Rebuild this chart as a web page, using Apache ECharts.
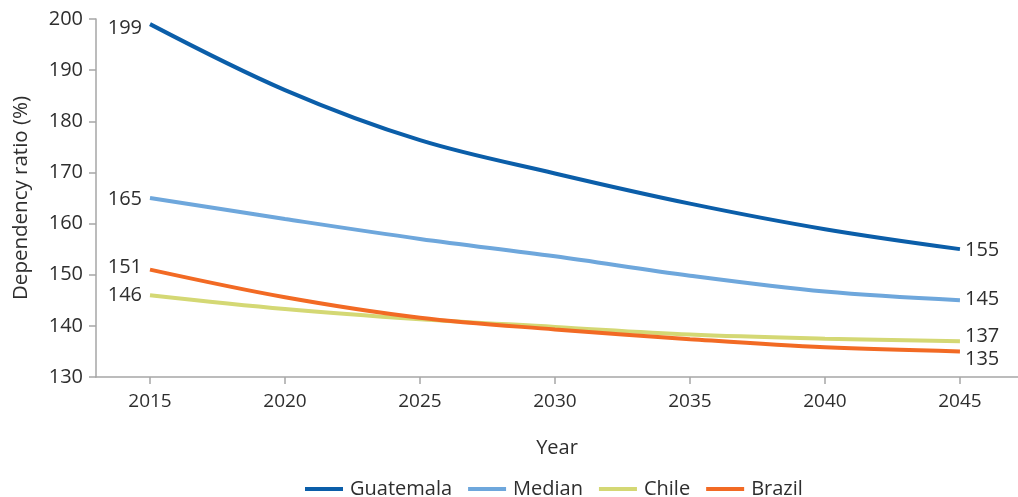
<!DOCTYPE html>
<html>
<head>
<meta charset="utf-8">
<title>Dependency ratio projections</title>
<script src="https://cdn.jsdelivr.net/npm/echarts@6/dist/echarts.min.js"></script>
<style>
  html, body { margin: 0; padding: 0; background: #ffffff; }
  #chart { width: 1018px; height: 497px; }
</style>
</head>
<body>
<div id="chart"></div>
<script>
// Projection years and tick labels
const years = [2015, 2020, 2025, 2030, 2035, 2040, 2045];
const yTicks = [130, 140, 150, 160, 170, 180, 190, 200];

// Dependency ratio (%) by series
const guatemala = [199, 186.1, 176.3, 169.8, 163.9, 158.9, 155];
const median    = [165, 160.9, 157.0, 153.6, 149.8, 146.7, 145];
const chile     = [146, 143.3, 141.3, 139.8, 138.3, 137.5, 137];
const brazil    = [151, 145.6, 141.6, 139.3, 137.4, 135.8, 135];

const seriesNames = ['Guatemala', 'Median', 'Chile', 'Brazil'];
const seriesColors = ['#0b5ea9', '#6ea7dc', '#d4d874', '#f26a24'];

const FONT = '"Open Sans", "Noto Sans", sans-serif';
const TEXT = '#2e2e2e';

// End-point label offsets keep close lines readable
const startOffsets = [[0, 4], [0, 1], [0, 0], [0, -2]];
const endOffsets   = [[0, 1], [0, -1], [0, -5], [0, 8]];

function buildSeries(values, idx) {
  const data = values.map((v, i) => {
    const item = { value: [years[i], v] };
    if (i === 0 || i === values.length - 1) {
      const first = i === 0;
      item.label = {
        show: true,
        position: first ? 'left' : 'right',
        distance: first ? 8 : 5,
        offset: first ? startOffsets[idx] : endOffsets[idx],
        formatter: p => String(Math.round(p.value[1])),
        fontSize: 20,
        fontFamily: FONT,
        color: TEXT
      };
    }
    return item;
  });
  return {
    name: seriesNames[idx],
    type: 'line',
    data: data,
    smooth: 0.35,
    showSymbol: true,
    symbol: 'circle',
    symbolSize: 0,
    lineStyle: { width: 4, color: seriesColors[idx] },
    itemStyle: { color: seriesColors[idx] },
    emphasis: { disabled: true },
    z: 2 + idx
  };
}

const chart = echarts.init(document.getElementById('chart'), null, { renderer: 'canvas' });

chart.setOption({
  animation: false,
  backgroundColor: '#ffffff',
  grid: { left: 96, right: 0, top: 19, bottom: 120, containLabel: false },
  legend: {
    data: seriesNames,
    left: 300,
    top: 474,
    icon: 'rect',
    itemWidth: 38,
    itemHeight: 4,
    itemGap: 16,
    textStyle: { fontSize: 20, fontFamily: FONT, color: TEXT, padding: [0, 0, 0, 2] }
  },
  xAxis: {
    type: 'value',
    min: 2013,
    max: 2047.15,
    name: 'Year',
    nameLocation: 'middle',
    nameGap: 61,
    nameTextStyle: { fontSize: 20, fontFamily: FONT, color: TEXT },
    axisLine: { show: true, lineStyle: { color: '#a6a6a6', width: 1.5 } },
    axisTick: { show: true, length: 7, customValues: years, lineStyle: { color: '#a6a6a6', width: 1.5 } },
    axisLabel: { customValues: years, margin: 15, fontSize: 19, fontFamily: FONT, color: TEXT, formatter: v => String(v) },
    splitLine: { show: false }
  },
  yAxis: {
    type: 'value',
    min: 130,
    max: 200,
    interval: 10,
    name: 'Dependency ratio (%)',
    nameLocation: 'middle',
    nameGap: 64,
    nameRotate: 90,
    nameTextStyle: { fontSize: 20.5, fontFamily: FONT, color: TEXT },
    axisLine: { show: true, lineStyle: { color: '#a6a6a6', width: 1.5 } },
    axisTick: { show: true, length: 7, customValues: yTicks, lineStyle: { color: '#a6a6a6', width: 1.5 } },
    axisLabel: { customValues: yTicks, margin: 13, fontSize: 20, fontFamily: FONT, color: TEXT },
    splitLine: { show: false }
  },
  series: [
    buildSeries(guatemala, 0),
    buildSeries(median, 1),
    buildSeries(chile, 2),
    buildSeries(brazil, 3)
  ]
});
</script>
</body>
</html>
